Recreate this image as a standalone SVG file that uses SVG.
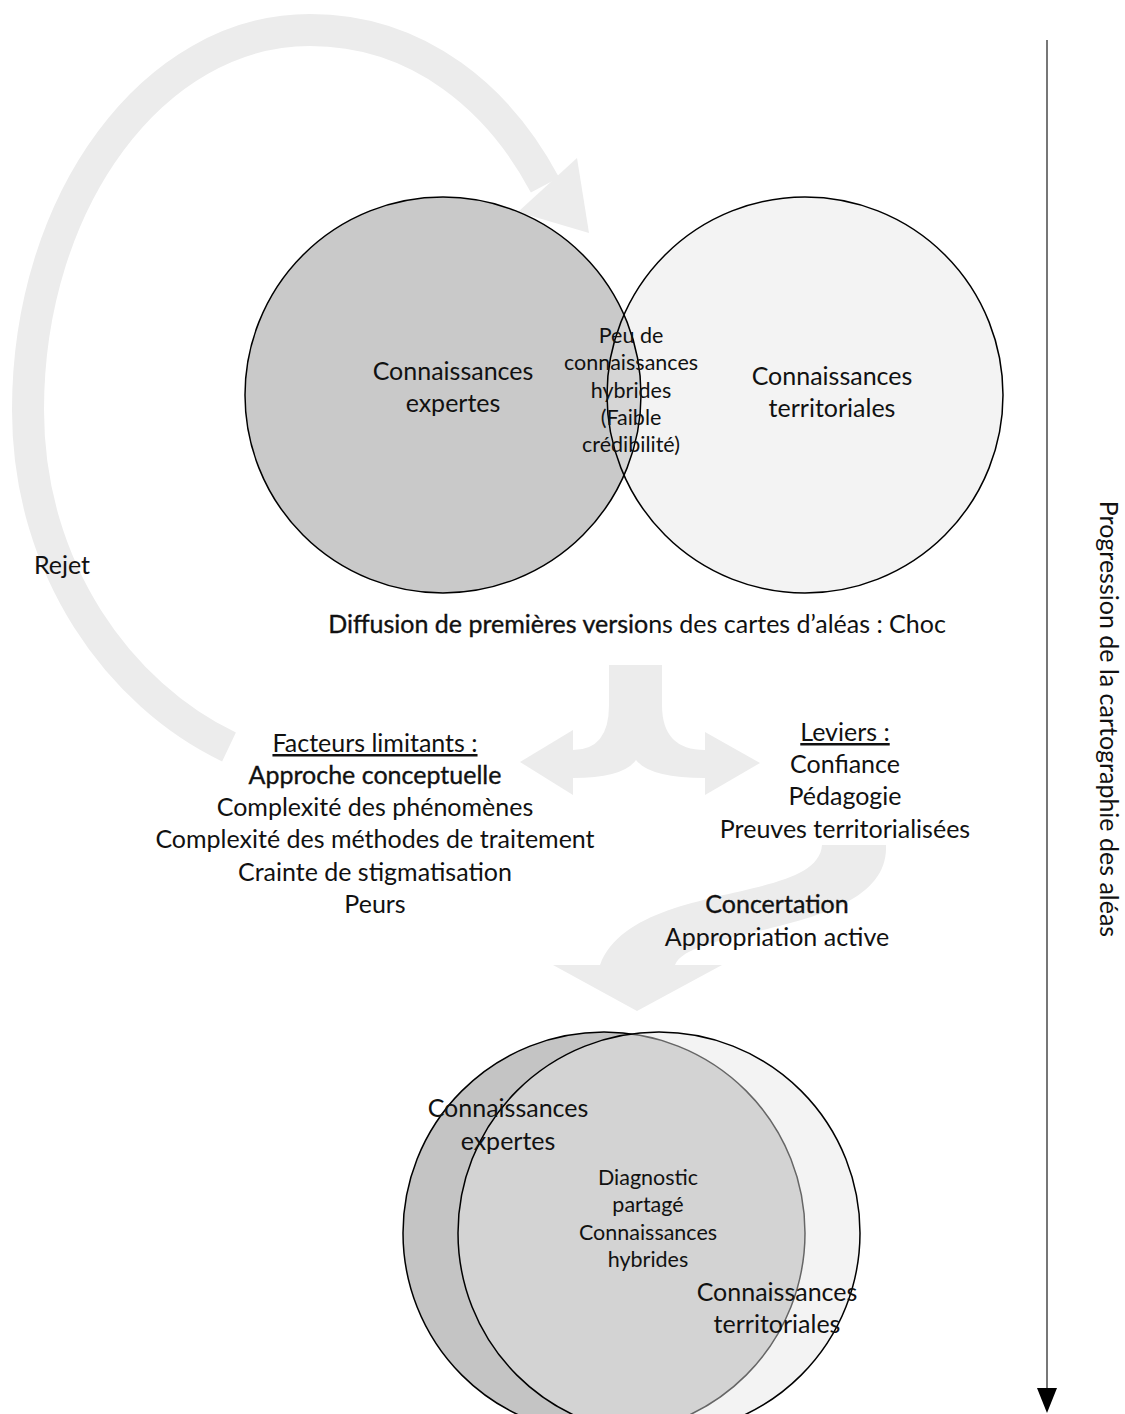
<svg xmlns="http://www.w3.org/2000/svg" width="1125" height="1414" viewBox="0 0 1125 1414">
<style>
  text { font-family: "Lato", "Liberation Sans", sans-serif; fill: #111; text-anchor: middle; }
  .t22 { font-size: 25px; }
  .t18 { font-size: 21.5px; }
  .bold { stroke: #111; stroke-width: 0.35; }
  .band { fill: none; stroke: #ececec; stroke-width: 32; }
  .flow { fill: #ececec; }
  .ol { fill: none; stroke: #000; stroke-width: 1.5; }
</style>
<defs>
  <clipPath id="clipTopRight"><circle cx="805" cy="395" r="198"/></clipPath>
  <clipPath id="clipLensLeft"><rect x="0" y="0" width="647" height="1414"/></clipPath>
  <clipPath id="clipBotRight"><circle cx="659" cy="1233" r="201"/></clipPath>
</defs>
<rect width="1125" height="1414" fill="#fff"/>

<g id="connectors">
  <g id="rejet-arrow">
    <path class="band" d="M 229 747 C 120 695 28 570 28 410 C 28 200 154 30 310 30 C 420 30 500 100 545 185"/>
    <polygon class="flow" points="518,212 577,158 589,233"/>
  </g>
  <path id="split-arrow" class="flow" d="M609 665 L609 705 Q609 750 573 750 L573 730 L520 762 L573 795 L573 778 Q623 778 636 760 Q650 778 705 778 L705 795 L760 763 L705 732 L705 750 Q662 750 662 705 L662 665 Z"/>
  <path id="s-arrow" class="flow" d="M822 845 L886 845 C890 935 690 925 675 965 L722 965 L637 1011 L553 965 L600 965 C632 880 818 905 822 845 Z"/>
</g>

<g id="venn-top">
  <circle id="top-expertes-circle" cx="443" cy="395" r="198" fill="#c9c9c9" stroke="#000" stroke-width="1.5"/>
  <circle id="top-territoriales-circle" cx="805" cy="395" r="198" fill="#f3f3f3"/>
  <g clip-path="url(#clipTopRight)">
    <circle cx="443" cy="395" r="198" fill="#d6d6d6" clip-path="url(#clipLensLeft)"/>
    <circle class="ol" cx="443" cy="395" r="198"/>
  </g>
  <circle class="ol" cx="805" cy="395" r="198" stroke="#222"/>
</g>

<g id="node-top-expertes">
  <text class="t22" x="453" y="380">Connaissances</text>
  <text class="t22" x="453" y="412">expertes</text>
</g>
<g id="node-top-territoriales">
  <text class="t22" x="832" y="385">Connaissances</text>
  <text class="t22" x="832" y="417">territoriales</text>
</g>
<g id="node-top-hybrides">
  <text class="t18" x="631" y="343">Peu de</text>
  <text class="t18" x="631" y="370">connaissances</text>
  <text class="t18" x="631" y="398">hybrides</text>
  <text class="t18" x="631" y="425">(Faible</text>
  <text class="t18" x="631" y="452">crédibilité)</text>
</g>

<g id="node-rejet">
  <text class="t22" x="62" y="574">Rejet</text>
</g>

<g id="node-diffusion">
  <text class="t22" x="637" y="633"><tspan class="bold">Diffusion de premières versio</tspan>ns des cartes d’aléas : Choc</text>
</g>

<g id="node-facteurs">
  <text class="t22" x="375" y="752" text-decoration="underline">Facteurs limitants :</text>
  <text class="t22 bold" x="375" y="784">Approche conceptuelle</text>
  <text class="t22" x="375" y="816">Complexité des phénomènes</text>
  <text class="t22" x="375" y="848">Complexité des méthodes de traitement</text>
  <text class="t22" x="375" y="881">Crainte de stigmatisation</text>
  <text class="t22" x="375" y="913">Peurs</text>
</g>

<g id="node-leviers">
  <text class="t22" x="845" y="741" text-decoration="underline">Leviers :</text>
  <text class="t22" x="845" y="773">Confiance</text>
  <text class="t22" x="845" y="805">Pédagogie</text>
  <text class="t22" x="845" y="838">Preuves territorialisées</text>
</g>

<g id="node-concertation">
  <text class="t22 bold" x="777" y="913">Concertation</text>
  <text class="t22" x="777" y="946">Appropriation active</text>
</g>

<g id="venn-bottom">
  <circle cx="604" cy="1233" r="201" fill="#c4c4c4" stroke="#000" stroke-width="1.5"/>
  <circle cx="659" cy="1233" r="201" fill="#f3f3f3"/>
  <circle cx="604" cy="1233" r="201" fill="#d3d3d3" stroke="#666" stroke-width="1.5" clip-path="url(#clipBotRight)"/>
  <circle class="ol" cx="659" cy="1233" r="201"/>
</g>
<g id="node-bottom-expertes">
  <text class="t22" x="508" y="1117">Connaissances</text>
  <text class="t22" x="508" y="1150">expertes</text>
</g>
<g id="node-bottom-hybrides">
  <text class="t18" x="648" y="1185">Diagnostic</text>
  <text class="t18" x="648" y="1212">partagé</text>
  <text class="t18" x="648" y="1240">Connaissances</text>
  <text class="t18" x="648" y="1267">hybrides</text>
</g>
<g id="node-bottom-territoriales">
  <text class="t22" x="777" y="1301">Connaissances</text>
  <text class="t22" x="777" y="1333">territoriales</text>
</g>

<g id="axis">
  <line x1="1047" y1="40" x2="1047" y2="1390" stroke="#777" stroke-width="2"/>
  <polygon points="1037,1388 1057,1388 1047,1413" fill="#000"/>
  <text class="t22" transform="translate(1100 719) rotate(90)" x="0" y="0">Progression de la cartographie des aléas</text>
</g>
</svg>
